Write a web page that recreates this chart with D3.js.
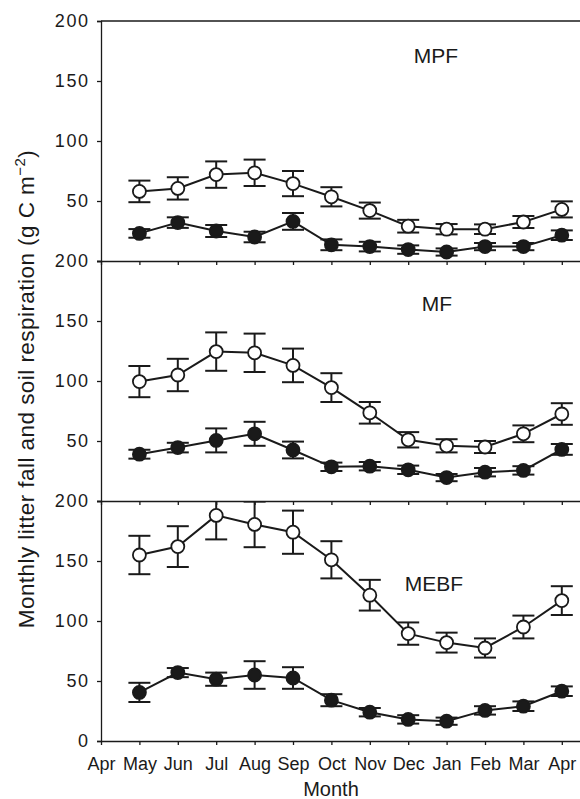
<!DOCTYPE html>
<html>
<head>
<meta charset="utf-8">
<script src="https://cdn.jsdelivr.net/npm/d3@7"></script>
<style>
  html, body { margin: 0; padding: 0; background: #fff; }
  svg { display: block; font-family: "Liberation Sans", Arial, Helvetica, sans-serif; }
</style>
</head>
<body>
<svg id="chart" width="580" height="799"></svg>
<script>
// Month tick labels: Apr of one year through Apr of the next
const monthLabels = ["Apr", "May", "Jun", "Jul", "Aug", "Sep", "Oct", "Nov", "Dec", "Jan", "Feb", "Mar", "Apr"];
// Observations run May..Apr (tick positions 1..12)
const monthIndex = [1, 2, 3, 4, 5, 6, 7, 8, 9, 10, 11, 12];

const forests = ["MPF", "MF", "MEBF"];

// Open circles: monthly soil respiration (g C m-2), with error
const mpfOpen    = [58, 60.5, 72, 73.5, 64.5, 53.5, 42, 29, 26.5, 26.5, 32.5, 43];
const mpfOpenErr = [9, 9.3, 11, 11, 10.5, 8, 6.7, 5.3, 4.3, 4, 5, 6.7];
const mfOpen     = [99.5, 105, 124.5, 123.5, 113, 94.5, 73.5, 51, 46, 45, 56, 72.5];
const mfOpenErr  = [13, 13.5, 16, 16, 14, 12, 9, 6.4, 5.5, 5, 7, 9];
const mebfOpen   = [155, 162, 188, 180.5, 174, 151, 121.5, 89.5, 82, 77.5, 95, 117];
const mebfOpenErr = [16, 17, 20, 19, 18, 15.5, 12.8, 9.3, 8.3, 8, 9.5, 12];

// Filled circles: monthly litter fall (g C m-2), with error
const mpfFilled    = [23, 32, 25, 20, 33, 13.5, 12, 9.5, 7.5, 12, 12, 21.5];
const mpfFilledErr = [3.6, 4.4, 5, 4.4, 7, 4.5, 4, 3.5, 3, 3, 3, 4];
const mfFilled     = [39, 44.5, 50.5, 56, 42.5, 28.5, 29, 26, 19.5, 24, 25.5, 43];
const mfFilledErr  = [3.7, 4, 10, 10, 7, 3.5, 3.5, 3.5, 3, 3.5, 3.5, 4.5];
const mebfFilled   = [40.5, 57, 51.5, 55, 52.5, 34, 24, 18, 16.5, 25.5, 29, 41.5];
const mebfFilledErr = [8, 3.8, 5.5, 11.5, 9, 5, 3.5, 3.5, 3, 3.5, 4, 4];

const yTicks = [0, 50, 100, 150, 200];

const panels = [
  { name: forests[0], open: mpfOpen, openErr: mpfOpenErr, filled: mpfFilled, filledErr: mpfFilledErr },
  { name: forests[1], open: mfOpen, openErr: mfOpenErr, filled: mfFilled, filledErr: mfFilledErr },
  { name: forests[2], open: mebfOpen, openErr: mebfOpenErr, filled: mebfFilled, filledErr: mebfFilledErr }
];

const svg = d3.select("#chart");
const ink = "#1a1a1a";

const left = 101, right = 581;
const panelTop = 21, panelH = 240;
const labelPos = [{ x: 436, y: 63 }, { x: 437, y: 311 }, { x: 434, y: 591 }];

const x = d3.scaleLinear().domain([0, 12.5]).range([left, right]);

panels.forEach((p, i) => {
  const top = panelTop + i * panelH;
  const bottom = top + panelH;
  const y = d3.scaleLinear().domain([0, 200]).range([bottom, top]);
  const isLast = i === panels.length - 1;

  const g = svg.append("g");

  // clip so marks stay inside the panel
  const clipId = "clip" + i;
  svg.append("clipPath").attr("id", clipId)
    .append("rect").attr("x", left).attr("y", top).attr("width", right - left).attr("height", panelH);

  // top frame line of the first panel
  if (i === 0) {
    g.append("line").attr("x1", left).attr("x2", right).attr("y1", top).attr("y2", top)
      .attr("stroke", ink).attr("stroke-width", 1.3);
  }

  // left y axis
  const yAxis = d3.axisLeft(y)
    .tickValues(isLast ? yTicks : yTicks.filter(v => v > 0))
    .tickSize(4).tickPadding(9);
  const ya = g.append("g").attr("transform", `translate(${left},0)`).call(yAxis);
  ya.select(".domain").attr("stroke", ink).attr("stroke-width", 1.3);
  ya.selectAll(".tick line").attr("stroke", ink).attr("stroke-width", 1.3);
  ya.selectAll(".tick text").attr("fill", ink).style("font-size", "18px")
    .style("letter-spacing", "1.6px").attr("dx", "1.6px");

  // bottom x axis
  const xAxis = d3.axisBottom(x)
    .tickValues(d3.range(monthLabels.length))
    .tickFormat(d => isLast ? monthLabels[d] : "")
    .tickSize(4).tickPadding(12).tickSizeOuter(0);
  const xa = g.append("g").attr("transform", `translate(0,${bottom})`).call(xAxis);
  xa.select(".domain").attr("stroke", ink).attr("stroke-width", 1.3);
  xa.selectAll(".tick line").attr("stroke", ink).attr("stroke-width", 1.3);
  xa.selectAll(".tick text").attr("fill", ink).style("font-size", "18px");

  // panel label
  g.append("text").attr("x", labelPos[i].x).attr("y", labelPos[i].y)
    .attr("text-anchor", "middle").attr("fill", ink).style("font-size", "21px").text(p.name);

  const marks = g.append("g").attr("clip-path", `url(#${clipId})`);
  const line = d3.line().x((d, k) => x(monthIndex[k])).y(d => y(d));

  [["filled", "filledErr", ink], ["open", "openErr", "#fff"]].forEach(([key, errKey, fill]) => {
    const vals = p[key], errs = p[errKey];
    const s = marks.append("g");
    s.append("path").datum(vals).attr("d", line)
      .attr("fill", "none").attr("stroke", ink).attr("stroke-width", 2);
    const eb = s.selectAll(".eb").data(vals).enter().append("g");
    eb.append("line")
      .attr("x1", (d, k) => x(monthIndex[k])).attr("x2", (d, k) => x(monthIndex[k]))
      .attr("y1", (d, k) => y(d + errs[k])).attr("y2", (d, k) => y(d - errs[k]))
      .attr("stroke", ink).attr("stroke-width", 2);
    [1, -1].forEach(sign => {
      eb.append("line")
        .attr("x1", (d, k) => x(monthIndex[k]) - 11).attr("x2", (d, k) => x(monthIndex[k]) + 11)
        .attr("y1", (d, k) => y(d + sign * errs[k])).attr("y2", (d, k) => y(d + sign * errs[k]))
        .attr("stroke", ink).attr("stroke-width", 2);
    });
    s.selectAll("circle").data(vals).enter().append("circle")
      .attr("cx", (d, k) => x(monthIndex[k])).attr("cy", d => y(d))
      .attr("r", 6.5).attr("fill", fill).attr("stroke", ink).attr("stroke-width", 1.8);
  });
});

// axis titles
svg.append("text").attr("x", 331).attr("y", 796).attr("text-anchor", "middle")
  .attr("fill", ink).style("font-size", "20px").text("Month");

const yTitle = svg.append("text")
  .attr("transform", "translate(34,389) rotate(-90)")
  .attr("text-anchor", "middle").attr("fill", ink).style("font-size", "22.5px")
  .style("letter-spacing", "0.45px");
yTitle.append("tspan").text("Monthly litter fall and soil respiration (g C m");
yTitle.append("tspan").attr("dy", "-9").style("font-size", "15px").text("\u22122");
yTitle.append("tspan").attr("dy", "9").text(")");
</script>
</body>
</html>
